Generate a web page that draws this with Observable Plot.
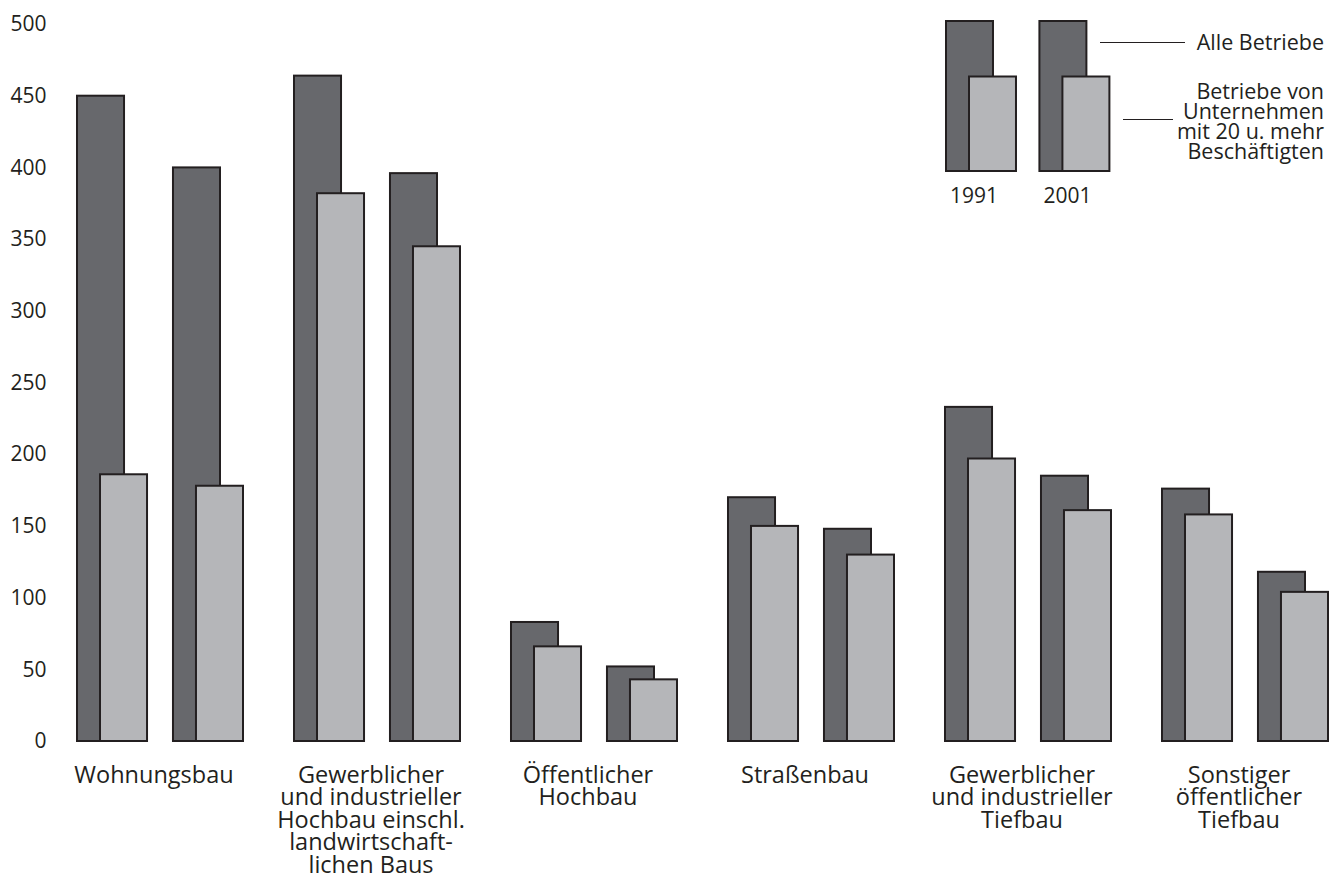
<!DOCTYPE html>
<html>
<head>
<meta charset="utf-8">
<script src="https://cdn.jsdelivr.net/npm/d3@7"></script>
<script src="https://cdn.jsdelivr.net/npm/@observablehq/plot@0.6"></script>
<style>
  html, body { margin: 0; padding: 0; background: #fff; }
  body { font-family: "Open Sans", sans-serif; color: #231f20; }
  #wrap { position: relative; width: 1340px; height: 875px; overflow: hidden; }
  #chart { position: absolute; left: 0; top: 0; }
  #legend { position: absolute; left: 900px; top: 0; }
  .lead { position: absolute; height: 0; border-top: 1.6px solid #231f20; }
  .ltext { position: absolute; right: 16px; text-align: right; font-size: 21.5px; line-height: 20px; color: #231f20; }
</style>
</head>
<body>
<div id="wrap">
  <div id="chart"></div>
  <div id="legend"></div>
  <div class="lead" style="left:1100px; width:85px; top:42px;"></div>
  <div class="lead" style="left:1123px; width:50px; top:118.5px;"></div>
  <div class="ltext" style="top:32px;">Alle Betriebe</div>
  <div class="ltext" style="top:81px;">Betriebe von<br>Unternehmen<br>mit 20 u. mehr<br>Beschäftigten</div>
</div>
<script>
// ---- Data ----
const categories = [
  "Wohnungsbau",
  "Gewerblicher und industrieller Hochbau einschl. landwirtschaftlichen Baus",
  "Öffentlicher Hochbau",
  "Straßenbau",
  "Gewerblicher und industrieller Tiefbau",
  "Sonstiger öffentlicher Tiefbau"
];
const categoryLabels = [
  "Wohnungsbau",
  "Gewerblicher\nund industrieller\nHochbau einschl.\nlandwirtschaft-\nlichen Baus",
  "Öffentlicher\nHochbau",
  "Straßenbau",
  "Gewerblicher\nund industrieller\nTiefbau",
  "Sonstiger\nöffentlicher\nTiefbau"
];
const years = ["1991", "2001"];
const alleBetriebe1991 = [450, 464, 83, 170, 233, 176];
const alleBetriebe2001 = [400, 396, 52, 148, 185, 118];
const grosseBetriebe1991 = [186, 382, 66, 150, 197, 158];
const grosseBetriebe2001 = [178, 345, 43, 130, 161, 104];
const yTicks = [0, 50, 100, 150, 200, 250, 300, 350, 400, 450, 500];

// legend sample
const legendYears = ["1991", "2001"];
const legendAlle = [100, 100];
const legendGross = [63, 63];

const darkFill = "#67686c";
const lightFill = "#b5b6b9";
const ink = "#231f20";

// ---- Tables built from arrays ----
const rows = [];
categories.forEach((c, i) => {
  rows.push({cat: c, year: years[0], alle: alleBetriebe1991[i], gross: grosseBetriebe1991[i]});
  rows.push({cat: c, year: years[1], alle: alleBetriebe2001[i], gross: grosseBetriebe2001[i]});
});
const labelRows = categories.map((c, i) => ({cat: c, label: categoryLabels[i]}));

const chart = Plot.plot({
  width: 1340,
  height: 875,
  marginTop: 24,
  marginBottom: 134,
  marginLeft: 77,
  marginRight: 35,
  style: {fontFamily: "'Open Sans', sans-serif", fontSize: "21px", color: ink, background: "white"},
  fx: {domain: categories, paddingInner: 0.341, paddingOuter: 0, round: false, axis: null, label: null},
  x: {domain: years, paddingInner: 0.51, paddingOuter: 0, round: false, axis: null},
  y: {domain: [0, 500], axis: null},
  marks: [
    Plot.axisY({ticks: yTicks, tickSize: 0, tickPadding: 31, fontSize: 21, label: null, fill: ink}),
    Plot.barY(rows, {fx: "cat", x: "year", y: "alle", fill: darkFill, stroke: ink, strokeWidth: 2}),
    Plot.barY(rows, {fx: "cat", x: "year", y: "gross", dx: 23, fill: lightFill, stroke: ink, strokeWidth: 2}),
    Plot.text(labelRows, {fx: "cat", text: "label", frameAnchor: "bottom", lineAnchor: "top", dy: 25, dx: 5, fontSize: 23.5, lineHeight: 0.96, fill: ink})
  ]
});
document.getElementById("chart").appendChild(chart);

const legendRows = legendYears.map((y, i) => ({year: y, alle: legendAlle[i], gross: legendGross[i]}));
const legend = Plot.plot({
  width: 440,
  height: 215,
  marginTop: 21,
  marginBottom: 44,
  marginLeft: 46,
  marginRight: 253.6,
  style: {fontFamily: "'Open Sans', sans-serif", fontSize: "21px", color: ink, background: "transparent"},
  x: {domain: legendYears, paddingInner: 0.497, paddingOuter: 0, round: false, axis: null},
  y: {domain: [0, 100], axis: null},
  marks: [
    Plot.barY(legendRows, {x: "year", y: "alle", fill: darkFill, stroke: ink, strokeWidth: 2}),
    Plot.barY(legendRows, {x: "year", y: "gross", dx: 23, fill: lightFill, stroke: ink, strokeWidth: 2}),
    Plot.text(legendRows, {x: "year", text: "year", frameAnchor: "bottom", lineAnchor: "top", dy: 17, dx: 4, fontSize: 21, fill: ink})
  ]
});
document.getElementById("legend").appendChild(legend);
</script>
</body>
</html>
